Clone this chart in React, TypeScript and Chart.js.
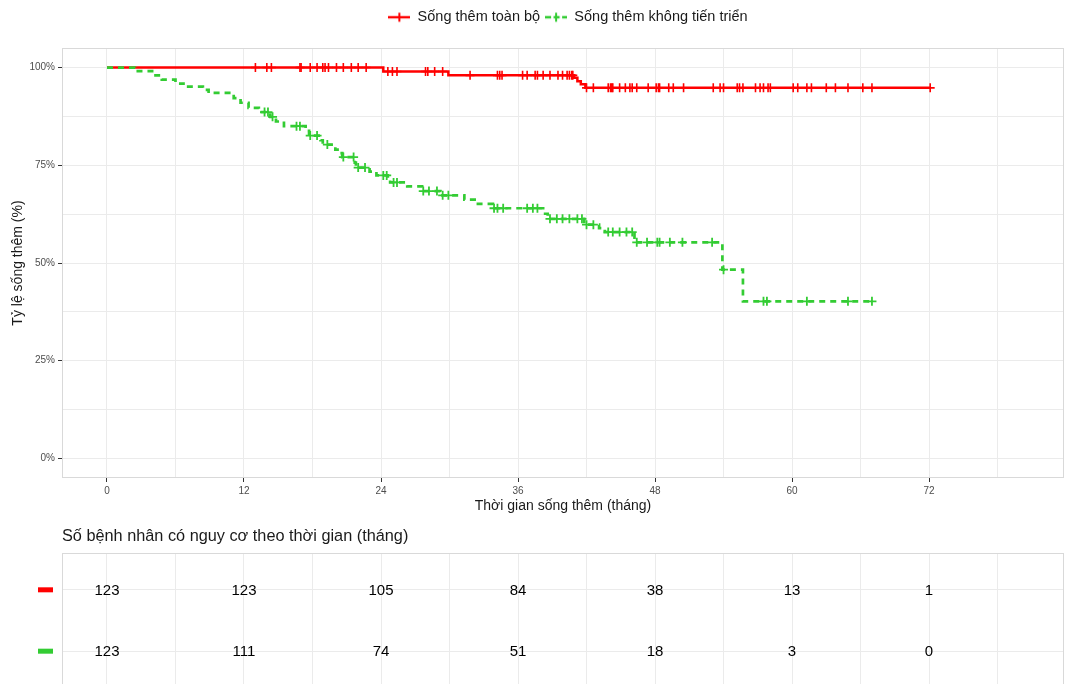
import React, { useEffect, useRef } from "react";
import { Chart, registerables } from "chart.js";

Chart.register(...registerables);

const FONT = "'Liberation Sans', Arial, Helvetica, sans-serif";

// ---------- texts ----------
const seriesLabels = ["Sống thêm toàn bộ", "Sống thêm không tiến triển"];
const seriesColors = ["#FF0000", "#33CC33"];
const xAxisTitle = "Thời gian sống thêm (tháng)";
const yAxisTitle = "Tỷ lệ sống thêm (%)";
const tableTitle = "Số bệnh nhân có nguy cơ theo thời gian (tháng)";

// ---------- axes ----------
const xGridValues = [0, 6, 12, 18, 24, 30, 36, 42, 48, 54, 60, 66, 72, 78];
const xLabelValues = [0, 12, 24, 36, 48, 60, 72];
const yGridValues = [0, 12.5, 25, 37.5, 50, 62.5, 75, 87.5, 100];
const yLabelValues = [0, 25, 50, 75, 100];

// ---------- overall survival (red) ----------
const osTimes = [0, 24.2, 29.9, 40.9, 41.2, 41.5, 41.9, 72.1];
const osSurv = [100, 99.0, 98.0, 97.4, 96.5, 95.7, 94.8, 94.8];
const osCensorTimes = [
  13.0, 14.0, 14.4, 16.9, 17.0, 17.8, 18.4, 18.9, 19.1, 19.4, 20.1, 20.7, 21.4, 22.0, 22.7,
  24.6, 25.0, 25.4, 27.9, 28.1, 28.7, 29.4, 31.8, 34.2, 34.4, 34.6, 36.4, 36.8, 37.5, 37.7,
  38.2, 38.8, 39.5, 39.9, 40.3, 40.5, 40.7, 40.8, 42.0, 42.6, 43.9, 44.1, 44.2, 44.3, 44.9,
  45.4, 45.8, 46.0, 46.4, 47.4, 48.1, 48.3, 48.4, 49.2, 49.6, 50.5, 53.1, 53.7, 54.0, 55.2,
  55.4, 55.7, 56.8, 57.2, 57.5, 57.9, 58.1, 60.1, 60.5, 61.3, 61.7, 63.0, 63.8, 64.9, 66.2,
  67.0, 72.1,
];

// ---------- progression-free survival (green) ----------
const pfsTimes = [
  0, 2.45, 4.1, 4.8, 6.0, 6.7, 8.4, 8.9, 11.1, 11.7, 12.4, 13.3, 14.3, 14.8, 15.5, 17.4, 17.7,
  18.7, 18.9, 20.0, 20.4, 20.6, 21.7, 21.8, 23.0, 23.6, 24.6, 24.8, 26.3, 27.6, 29.2, 31.3,
  32.2, 33.8, 38.2, 38.6, 41.8, 43.1, 43.6, 46.2, 53.9, 55.7, 67.0,
];
const pfsSurv = [
  100, 99.1, 98.0, 96.9, 95.9, 95.1, 94.3, 93.5, 92.2, 91.0, 89.7, 88.6, 87.4, 86.2, 85.0,
  83.8, 82.6, 81.4, 80.3, 79.0, 78.1, 77.1, 75.7, 74.4, 73.4, 72.4, 71.5, 70.6, 69.6, 68.4,
  67.3, 66.2, 65.1, 64.0, 62.6, 61.3, 59.8, 58.9, 57.9, 55.3, 48.3, 40.2, 40.2,
];
const pfsCensorTimes = [
  13.8, 14.1, 14.5, 16.6, 16.9, 17.8, 18.4, 19.3, 20.7, 21.6, 22.0, 22.6, 24.2, 24.5, 25.1,
  25.4, 27.7, 28.2, 28.9, 29.4, 29.9, 33.9, 34.2, 34.7, 36.8, 37.3, 37.7, 38.8, 39.4, 39.9,
  40.5, 41.2, 41.6, 42.0, 42.6, 43.9, 44.3, 44.9, 45.5, 46.0, 46.4, 47.3, 48.2, 48.4, 49.3,
  50.4, 53.0, 54.0, 57.5, 57.8, 61.3, 64.9, 67.0,
];

// ---------- number at risk ----------
const riskTimes = [0, 12, 24, 36, 48, 60, 72];
const riskOS = [123, 123, 105, 84, 38, 13, 1];
const riskPFS = [123, 111, 74, 51, 18, 3, 0];

// ---------- helpers ----------
function levelAt(times: number[], surv: number[], t: number): number {
  let v = surv[0];
  for (let i = 0; i < times.length; i++) if (times[i] <= t) v = surv[i];
  return v;
}
function stepPoints(times: number[], surv: number[]) {
  return times.map((t, i) => ({ x: t, y: surv[i] }));
}
function censorPoints(times: number[], surv: number[], cens: number[]) {
  return cens.map((t) => ({ x: t, y: levelAt(times, surv, t) }));
}
function makeLegendSymbol(color: string, dashed: boolean) {
  const c = document.createElement("canvas");
  c.width = 22;
  c.height = 12;
  const g = c.getContext("2d")!;
  g.strokeStyle = color;
  g.lineWidth = 2.4;
  if (dashed) g.setLineDash([6, 2.5]);
  g.beginPath();
  g.moveTo(0, 6);
  g.lineTo(22, 6);
  g.stroke();
  g.setLineDash([]);
  g.lineWidth = 2;
  g.beginPath();
  g.moveTo(11, 1.5);
  g.lineTo(11, 10.5);
  g.stroke();
  return c;
}

const X_MIN = -3.94;
const X_MAX = 83.82;
const GRID = "#EBEBEB";
const BORDER = "#D9D9D9";

const panelBorder = {
  id: "panelBorder",
  beforeDatasetsDraw(chart: any) {
    const { ctx, chartArea: a } = chart;
    ctx.save();
    ctx.strokeStyle = BORDER;
    ctx.lineWidth = 1;
    ctx.strokeRect(a.left + 0.5, a.top + 0.5, a.right - a.left - 1, a.bottom - a.top - 1);
    ctx.restore();
  },
};

// nudges the legend so that it sits where the reference has it
const legendShift = {
  id: "legendShift",
  afterLayout(chart: any) {
    const lg = chart.legend;
    if (lg) {
      lg.left += 5;
      lg.right += 5;
    }
  },
};

const riskTablePlugin = {
  id: "riskTable",
  afterDraw(chart: any) {
    const { ctx, chartArea } = chart;
    const x = chart.scales.x;
    const y = chart.scales.y;
    ctx.save();
    ctx.font = `16.3px ${FONT}`;
    ctx.fillStyle = "#1a1a1a";
    ctx.textAlign = "left";
    ctx.textBaseline = "middle";
    ctx.fillText(tableTitle, chartArea.left, 17);
    const rows = [
      { values: riskOS, color: seriesColors[0], level: 2 },
      { values: riskPFS, color: seriesColors[1], level: 1 },
    ];
    ctx.font = `15px ${FONT}`;
    ctx.textAlign = "center";
    rows.forEach((r) => {
      const py = y.getPixelForValue(r.level);
      ctx.fillStyle = "#000000";
      r.values.forEach((v, i) => ctx.fillText(String(v), x.getPixelForValue(riskTimes[i]), py + 1));
      ctx.fillStyle = r.color;
      ctx.fillRect(38, py - 2.5, 15, 5);
    });
    ctx.restore();
  },
};

export default function App() {
  const topRef = useRef<HTMLCanvasElement>(null);
  const botRef = useRef<HTMLCanvasElement>(null);

  useEffect(() => {
    Chart.defaults.font.family = FONT;
    const symbols = [makeLegendSymbol(seriesColors[0], false), makeLegendSymbol(seriesColors[1], true)];

    const c1 = new Chart(topRef.current!, {
      type: "line",
      data: {
        datasets: [
          {
            label: seriesLabels[0],
            data: stepPoints(osTimes, osSurv),
            borderColor: seriesColors[0],
            borderWidth: 2.5,
            stepped: "before",
            pointRadius: 0,
            fill: false,
            order: 3,
            xAxisID: "x",
            yAxisID: "y",
          },
          {
            label: seriesLabels[1],
            data: stepPoints(pfsTimes, pfsSurv),
            borderColor: seriesColors[1],
            borderWidth: 2.7,
            borderDash: [6, 5],
            stepped: "before",
            pointRadius: 0,
            fill: false,
            order: 1,
            xAxisID: "x",
            yAxisID: "y",
          },
          {
            label: "os-censor",
            data: censorPoints(osTimes, osSurv, osCensorTimes),
            showLine: false,
            pointStyle: "cross",
            pointRadius: 4.5,
            pointBorderWidth: 1.6,
            pointBorderColor: seriesColors[0],
            borderColor: seriesColors[0],
            order: 2,
            xAxisID: "x",
            yAxisID: "y",
          },
          {
            label: "pfs-censor",
            data: censorPoints(pfsTimes, pfsSurv, pfsCensorTimes),
            showLine: false,
            pointStyle: "cross",
            pointRadius: 4.5,
            pointBorderWidth: 1.8,
            pointBorderColor: seriesColors[1],
            borderColor: seriesColors[1],
            order: 0,
            xAxisID: "x",
            yAxisID: "y",
          },
        ],
      },
      options: {
        animation: false,
        responsive: false,
        events: [],
        layout: { autoPadding: false, padding: { top: 5, right: 2, left: 0, bottom: 0 } },
        plugins: {
          tooltip: { enabled: false },
          legend: {
            position: "top",
            fullSize: false,
            labels: {
              usePointStyle: true,
              pointStyleWidth: 22,
              padding: 5,
              color: "#1a1a1a",
              font: { size: 14.5 },
              generateLabels: () =>
                seriesLabels.map((text, i) => ({
                  text,
                  pointStyle: symbols[i] as any,
                  fillStyle: seriesColors[i],
                  strokeStyle: seriesColors[i],
                  lineWidth: 0,
                  hidden: false,
                  datasetIndex: i,
                  fontColor: "#1a1a1a",
                })),
            },
          },
        },
        scales: {
          x: {
            type: "linear",
            position: "bottom",
            min: X_MIN,
            max: X_MAX,
            afterBuildTicks: (s: any) => {
              s.ticks = xGridValues.map((v) => ({ value: v }));
            },
            afterFit: (s: any) => {
              s.height = 42;
            },
            border: { display: false },
            grid: {
              color: GRID,
              lineWidth: 1,
              tickLength: 4,
              tickWidth: 1,
              tickColor: (c: any) =>
                c.tick && xLabelValues.includes(c.tick.value) ? "#333333" : "rgba(0,0,0,0)",
            },
            ticks: {
              autoSkip: false,
              maxRotation: 0,
              padding: 3,
              color: "#4D4D4D",
              font: { size: 10 },
              callback: (v: any) => (xLabelValues.includes(Number(v)) ? String(v) : ""),
            },
            title: {
              display: true,
              text: xAxisTitle,
              color: "#1a1a1a",
              font: { size: 14 },
              padding: { top: 0, bottom: 5.6 },
            },
          },
          xTop: {
            type: "linear",
            position: "top",
            display: true,
            grid: { display: false },
            border: { display: false },
            ticks: { display: false },
            afterFit: (s: any) => {
              s.height = 13.5;
            },
          },
          y: {
            type: "linear",
            position: "left",
            min: -5,
            max: 105,
            afterBuildTicks: (s: any) => {
              s.ticks = yGridValues.map((v) => ({ value: v }));
            },
            afterFit: (s: any) => {
              s.width = 62;
            },
            border: { display: false },
            grid: {
              color: GRID,
              lineWidth: 1,
              tickLength: 4,
              tickWidth: 1,
              tickColor: (c: any) =>
                c.tick && yLabelValues.includes(c.tick.value) ? "#333333" : "rgba(0,0,0,0)",
            },
            ticks: {
              autoSkip: false,
              padding: 3,
              color: "#4D4D4D",
              font: { size: 10 },
              callback: (v: any) => (yLabelValues.includes(Number(v)) ? `${v}%` : ""),
            },
            title: {
              display: true,
              text: yAxisTitle,
              color: "#1a1a1a",
              font: { size: 14 },
              padding: { top: 10, bottom: 0 },
            },
          },
        },
      },
      plugins: [panelBorder, legendShift],
    } as any);

    const c2 = new Chart(botRef.current!, {
      type: "scatter",
      data: { datasets: [] },
      options: {
        animation: false,
        responsive: false,
        events: [],
        layout: { autoPadding: false, padding: { top: 33, right: 2, left: 0, bottom: 0 } },
        plugins: { legend: { display: false }, tooltip: { enabled: false } },
        scales: {
          x: {
            type: "linear",
            min: X_MIN,
            max: X_MAX,
            afterBuildTicks: (s: any) => {
              s.ticks = xGridValues.map((v) => ({ value: v }));
            },
            afterFit: (s: any) => {
              s.height = 0;
            },
            border: { display: false },
            grid: { color: GRID, lineWidth: 1, drawTicks: false },
            ticks: { display: false },
          },
          y: {
            type: "linear",
            min: 0.4,
            max: 2.6,
            afterBuildTicks: (s: any) => {
              s.ticks = [1, 2].map((v) => ({ value: v }));
            },
            afterFit: (s: any) => {
              s.width = 62;
            },
            border: { display: false },
            grid: { color: GRID, lineWidth: 1, drawTicks: false },
            ticks: { display: false },
          },
        },
      },
      plugins: [panelBorder, riskTablePlugin],
    } as any);

    return () => {
      c1.destroy();
      c2.destroy();
    };
  }, []);

  return (
    <div
      style={{
        position: "absolute",
        left: 0,
        top: 0,
        width: 1066,
        height: 684,
        overflow: "hidden",
        background: "#ffffff",
      }}
    >
      <canvas
        ref={topRef}
        width={1066}
        height={520}
        style={{ position: "absolute", left: 0, top: 0, display: "block" }}
      />
      <canvas
        ref={botRef}
        width={1066}
        height={168}
        style={{ position: "absolute", left: 0, top: 520, display: "block" }}
      />
    </div>
  );
}
